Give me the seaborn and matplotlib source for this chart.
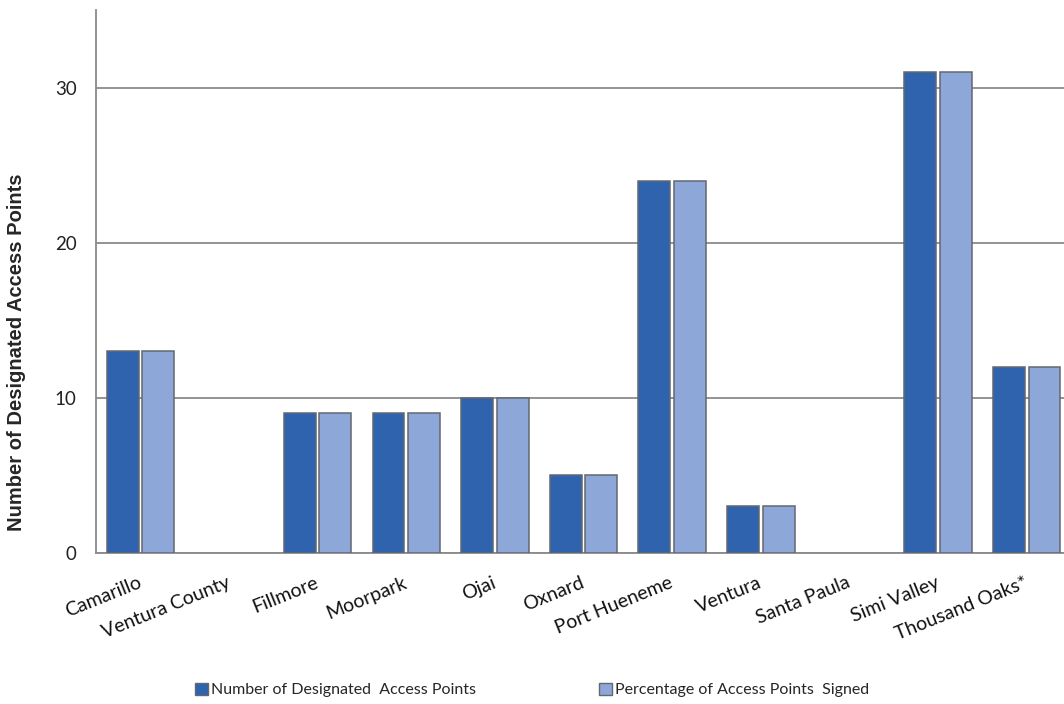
import matplotlib
matplotlib.use("Agg")
import matplotlib.pyplot as plt
import matplotlib.transforms as mtransforms
from matplotlib.patches import Patch
import seaborn as sns
import pandas as pd

# Designated coastal access points by jurisdiction
cities = ["Camarillo", "Ventura County", "Fillmore", "Moorpark", "Ojai", "Oxnard",
          "Port Hueneme", "Ventura", "Santa Paula", "Simi Valley", "Thousand Oaks*"]
designated = [13, 0, 9, 9, 10, 5, 24, 3, 0, 31, 12]
signed = [13, 0, 9, 9, 10, 5, 24, 3, 0, 31, 12]
series_names = ["Number of Designated  Access Points", "Percentage of Access Points  Signed"]
y_ticks = [0, 10, 20, 30]

df = pd.DataFrame({
    "city": cities * 2,
    "value": designated + signed,
    "series": [series_names[0]] * len(cities) + [series_names[1]] * len(cities),
})

sns.set_theme(style="white")
plt.rcParams["font.family"] = ["Lato", "DejaVu Sans"]

fig = plt.figure(figsize=(10.64, 7.04), dpi=100)
ax = fig.add_axes([0.0902, 0.2145, 0.9098, 0.7713])

palette = {series_names[0]: "#2F63AE", series_names[1]: "#8DA8D8"}
edge = "#626870"
sns.barplot(data=df, x="city", y="value", hue="series", palette=palette,
            width=0.8, gap=0.1, edgecolor=edge, linewidth=1.1,
            saturation=1, ax=ax, legend=False, zorder=3)
# empty categories draw no visible bar
for bar in ax.patches:
    if bar.get_height() == 0:
        bar.set_visible(False)

ax.set_ylim(0, 35)
ax.set_xlim(-0.5, 10.42)
ax.set_yticks(y_ticks)
ax.set_yticklabels([str(t) for t in y_ticks], fontsize=13.5, color="#222222")
ax.yaxis.grid(True, color="#8A8A8A", linewidth=1.3, zorder=0)
ax.xaxis.grid(False)
ax.set_axisbelow(True)
for side in ("top", "right"):
    ax.spines[side].set_visible(False)
for side in ("left", "bottom"):
    ax.spines[side].set_color("#8A8A8A")
    ax.spines[side].set_linewidth(1.3)
ax.tick_params(axis="both", length=0)
ax.tick_params(axis="y", pad=14)

ax.set_xticks(range(len(cities)))
ax.set_xticklabels(cities, rotation=22, ha="right", rotation_mode="anchor",
                   fontsize=14, color="#111111")
ax.tick_params(axis="x", pad=15)
shift = mtransforms.ScaledTranslation(-3 / 100, 0, fig.dpi_scale_trans)
for lbl in ax.get_xticklabels():
    lbl.set_transform(lbl.get_transform() + shift)

ax.set_xlabel("")
ax.set_ylabel("Number of Designated Access Points", fontsize=14.5,
              fontweight="bold", family="Liberation Sans")
ax.yaxis.set_label_coords(-0.072, 0.37)

handles = [Patch(facecolor=palette[name], edgecolor=edge, linewidth=1.0)
           for name in series_names]
fig.legend(handles, series_names, loc="center", bbox_to_anchor=(0.5, 0.02),
           ncol=2, frameon=False, fontsize=11.5, handlelength=0.8,
           handleheight=0.8, handletextpad=0.2, columnspacing=7.7)

fig.savefig("out.png", dpi=100)
